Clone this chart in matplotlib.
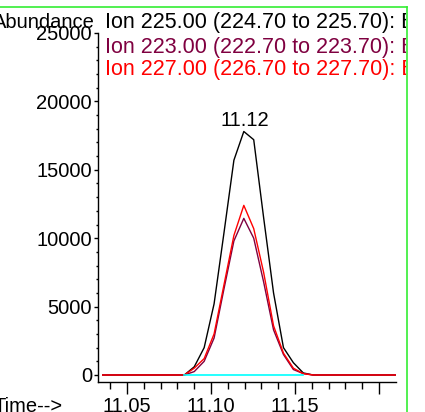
import matplotlib
matplotlib.use("Agg")
import matplotlib.pyplot as plt
from matplotlib.lines import Line2D
from matplotlib.transforms import Bbox, TransformedBbox

plt.rcParams['font.family'] = ['Liberation Sans', 'DejaVu Sans']

# retention time (min) and abundance per ion trace
times = [11.0355, 11.0841, 11.0900, 11.0959, 11.1018, 11.1077, 11.1136, 11.1195,
         11.1254, 11.1313, 11.1372, 11.1431, 11.1490, 11.1549, 11.1608, 11.2100]
ion225 = [0, 0, 600, 2000, 5200, 10400, 15700, 17800, 17200, 11500, 6000, 2000, 900, 150, 0, 0]
ion223 = [0, 0, 250, 1000, 2700, 6300, 9800, 11450, 10000, 6800, 3300, 1500, 400, 100, 0, 0]
ion227 = [0, 0, 500, 1200, 3000, 6600, 10200, 12400, 10700, 7500, 3600, 1600, 500, 100, 0, 0]
base_t = [11.0841, 11.1549]
base_y = [0, 0]

legend_txt = ["Ion 225.00 (224.70 to 225.70): B",
              "Ion 223.00 (222.70 to 223.70): B",
              "Ion 227.00 (226.70 to 227.70): B"]
colors = ["black", "#7f0040", "#ff0000"]
peak_label = "11.12"

W, H = 425, 412
fig = plt.figure(figsize=(W / 100, H / 100), dpi=100)

def fx(px):
    return px / W

def fy(py):
    return 1 - py / H

ax = fig.add_axes([fx(97.5), fy(382), fx(396) - fx(97.5), fy(33) - fy(382)])

ax.plot(times, ion225, color=colors[0], lw=1.0)
ax.plot(times, ion223, color=colors[1], lw=1.0)
ax.plot(times, ion227, color=colors[2], lw=1.0)
ax.plot(base_t, base_y, color="#00ffff", lw=1.2)

ipk = ion225.index(max(ion225))
ax.annotate(peak_label, (times[ipk], ion225[ipk]), xytext=(1, 3.6),
            textcoords="offset points", ha="center", va="baseline", fontsize=14.5)

ax.set_xlim(11.0324, 11.2101)
ax.set_ylim(-512, 25000)

ax.set_xticks([11.05, 11.10, 11.15, 11.20])
ax.set_xticklabels(["11.05", "11.10", "11.15", ""])
ax.set_xticks([11.04 + 0.01 * i for i in range(16)], minor=True)
ax.set_yticks([0, 5000, 10000, 15000, 20000, 25000])
ax.set_yticks(range(0, 25001, 1000), minor=True)

ax.tick_params(axis="x", which="major", length=8.6, width=1.0, pad=2, labelsize=14.5)
ax.tick_params(axis="x", which="minor", length=4.7, width=1.0)
ax.tick_params(axis="y", which="major", length=3, width=1.0, pad=1, labelsize=14.5)
ax.tick_params(axis="y", which="minor", length=1.5, width=1.0)

for s in ["top", "right"]:
    ax.spines[s].set_visible(False)
for s in ["left", "bottom"]:
    ax.spines[s].set_linewidth(1.0)

fig.text(fx(95), fy(28), "Abundance", ha="right", va="baseline", fontsize=14.5)
fig.text(fx(63), fy(412), "Time-->", ha="right", va="baseline", fontsize=14.5)

clip = TransformedBbox(Bbox([[0, 0], [fx(406), 1]]), fig.transFigure)
for txt, c, yb in zip(legend_txt, colors, [28, 53, 75]):
    t = fig.text(fx(105), fy(yb), txt, color=c, ha="left", va="baseline", fontsize=15.5)
    t.set_clip_box(clip)
    t.set_clip_on(True)

green = "#33ee33"
fig.add_artist(Line2D([0, fx(406.5)], [fy(6.5), fy(6.5)], transform=fig.transFigure,
                      color=green, lw=1.2))
fig.add_artist(Line2D([fx(406.5), fx(406.5)], [0, fy(6.5)], transform=fig.transFigure,
                      color=green, lw=1.2))

fig.savefig("out.png", dpi=100)
